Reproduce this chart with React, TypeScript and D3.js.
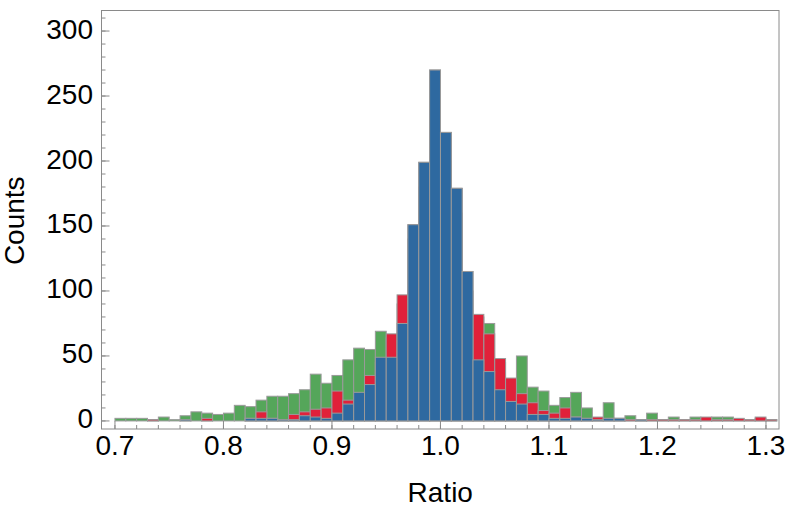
import React from "react";
import * as d3 from "d3";

const binStarts = [
  0.70, 0.71, 0.72, 0.73, 0.74, 0.75, 0.76, 0.77, 0.78, 0.79,
  0.80, 0.81, 0.82, 0.83, 0.84, 0.85, 0.86, 0.87, 0.88, 0.89,
  0.90, 0.91, 0.92, 0.93, 0.94, 0.95, 0.96, 0.97, 0.98, 0.99,
  1.00, 1.01, 1.02, 1.03, 1.04, 1.05, 1.06, 1.07, 1.08, 1.09,
  1.10, 1.11, 1.12, 1.13, 1.14, 1.15, 1.16, 1.17, 1.18, 1.19,
  1.20, 1.21, 1.22, 1.23, 1.24, 1.25, 1.26, 1.27, 1.28, 1.29,
  1.30,
];
const binWidth = 0.01;

const greenCounts = [
  2, 2, 2, 1, 3, 1, 4, 7, 6, 5,
  6, 12, 11, 16, 19, 19, 21, 24, 36, 29,
  35, 47, 56, 55, 69, 64, 90, 140, 180, 240,
  200, 160, 100, 80, 75, 45, 30, 50, 26, 23,
  12, 18, 22, 10, 2, 14, 2, 4, 1, 6,
  1, 3, 1, 3, 2, 3, 3, 1, 1, 2,
  1,
];
const redCounts = [
  0, 0, 0, 1, 0, 0, 0, 0, 2, 0,
  0, 0, 2, 7, 2, 1, 5, 7, 9, 10,
  23, 16, 18, 35, 45, 67, 97, 151, 199, 270,
  222, 179, 115, 82, 67, 48, 33, 21, 14, 8,
  6, 10, 3, 2, 3, 2, 2, 1, 1, 1,
  1, 1, 1, 1, 3, 1, 1, 2, 1, 3,
  1,
];
const blueCounts = [
  0, 0, 0, 0, 0, 0, 1, 0, 0, 0,
  0, 0, 2, 2, 2, 1, 1, 4, 3, 2,
  6, 13, 22, 28, 49, 49, 75, 151, 199, 270,
  222, 179, 115, 47, 38, 24, 15, 13, 5, 5,
  2, 2, 3, 2, 1, 2, 2, 0, 1, 0,
  0, 0, 0, 0, 0, 0, 0, 0, 0, 0,
  0,
];

const xMajorTicks = [0.7, 0.8, 0.9, 1.0, 1.1, 1.2, 1.3];
const yMajorTicks = [0, 50, 100, 150, 200, 250, 300];

const series = [
  { name: "green", values: greenCounts, color: "#55A65A" },
  { name: "red", values: redCounts, color: "#E0213A" },
  { name: "blue", values: blueCounts, color: "#2E69A0" },
];

const W = 789;
const H = 522;
const left = 101.5;
const right = 779;
const top = 10.5;
const bottom = 429;

export default function App() {
  const x = d3.scaleLinear().domain([0.6876, 1.312]).range([left, right]);
  const y = d3.scaleLinear().domain([-6.2, 315.8]).range([bottom, top]);

  const xMinor = d3.range(0, 31).map((i) => 0.7 + i * 0.02).filter((v) => x(v) < right - 1);
  const yMinor = d3.range(0, 32).map((i) => i * 10).filter((v) => y(v) > top + 1);

  const font = "'Liberation Sans', Arial, Helvetica, sans-serif";

  return (
    <div style={{ position: "absolute", left: 0, top: 0 }}>
      <svg width={W} height={H} style={{ display: "block", background: "#fff" }}>
        {series.map((s) => (
          <g key={s.name}>
            {binStarts.map((b, i) => {
              const v = s.values[i];
              if (!v) return null;
              const x0 = x(b);
              const x1 = x(b + binWidth);
              return (
                <rect
                  key={i}
                  x={x0}
                  y={y(v)}
                  width={x1 - x0}
                  height={y(0) - y(v)}
                  fill={s.color}
                  stroke="#9a9a9a"
                  strokeWidth={1}
                />
              );
            })}
          </g>
        ))}
        <rect x={left} y={top} width={right - left} height={bottom - top} fill="none" stroke="#8a8a8a" strokeWidth={1} />
        {xMinor.map((v, i) => (
          <line key={"xm" + i} x1={x(v)} x2={x(v)} y1={bottom} y2={bottom - 4} stroke="#8a8a8a" strokeWidth={1} />
        ))}
        {xMajorTicks.map((v) => (
          <g key={"xM" + v}>
            <line x1={x(v)} x2={x(v)} y1={bottom} y2={bottom - 8} stroke="#8a8a8a" strokeWidth={1} />
            <text x={x(v)} y={455} textAnchor="middle" fontFamily={font} fontSize={28} fill="#000">
              {v.toFixed(1)}
            </text>
          </g>
        ))}
        {yMinor.map((v, i) => (
          <line key={"ym" + i} x1={left} x2={left + 4} y1={y(v)} y2={y(v)} stroke="#8a8a8a" strokeWidth={1} />
        ))}
        {yMajorTicks.map((v) => (
          <g key={"yM" + v}>
            <line x1={left} x2={left + 8} y1={y(v)} y2={y(v)} stroke="#8a8a8a" strokeWidth={1} />
            <text x={93} y={y(v) + 7.5} textAnchor="end" fontFamily={font} fontSize={28} fill="#000">
              {v}
            </text>
          </g>
        ))}
        <text x={(left + right) / 2} y={501.5} textAnchor="middle" fontFamily={font} fontSize={28} fill="#000">
          Ratio
        </text>
        <text
          transform={`translate(23.5, ${(top + bottom) / 2 + 1}) rotate(-90)`}
          textAnchor="middle"
          fontFamily={font}
          fontSize={28}
          fill="#000"
        >
          Counts
        </text>
      </svg>
    </div>
  );
}
